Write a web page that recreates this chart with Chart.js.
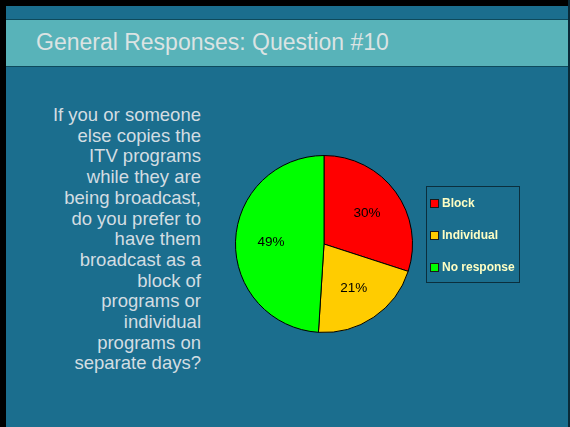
<!DOCTYPE html>
<html>
<head>
<meta charset="utf-8">
<script src="https://cdn.jsdelivr.net/npm/chart.js@4/dist/chart.umd.min.js"></script>
<style>
    html, body { margin: 0; padding: 0; }
    body {
        width: 570px; height: 427px; position: relative; overflow: hidden;
        background: #1b6e8e;
        font-family: Arial, "Liberation Sans", sans-serif;
    }
    .frame-top { position: absolute; left: 0; top: 0; width: 570px; height: 6px; background: #000; }
    .frame-left { position: absolute; left: 0; top: 0; width: 6px; height: 427px; background: #000; }
    .frame-right { position: absolute; right: 0; top: 0; width: 2px; height: 427px; background: #0a2a38; }
    .header {
        position: absolute; left: 6px; top: 19px; width: 562px; height: 46px;
        background: #58b3b9;
        border-top: 1px solid #0e4a5c; border-bottom: 1px solid #0e4a5c;
    }
    .header h1 {
        margin: 0; position: absolute; left: 30px; top: 9px;
        font-size: 23px; font-weight: normal; color: #dbe3e3; white-space: nowrap;
    }
    .question {
        position: absolute; left: 10px; top: 105px; width: 191px;
        text-align: right; font-size: 18.5px; line-height: 20.7px; color: #d3dde2;
    }
    #chart { position: absolute; left: 0; top: 0; }
</style>
</head>
<body>
<div class="frame-top"></div>
<div class="frame-left"></div>
<div class="frame-right"></div>
<div class="header"><h1>General Responses: Question #10</h1></div>
<div class="question">
    If you or someone<br>else copies the<br>ITV programs<br>while they are<br>being broadcast,<br>do you prefer to<br>have them<br>broadcast as a<br>block of<br>programs or<br>individual<br>programs on<br>separate days?
</div>
<canvas id="chart" width="570" height="427"></canvas>

<script>
const categories = ['Block', 'Individual', 'No response'];
const percents = [30, 21, 49];
const sliceColors = ['#ff0000', '#ffcc00', '#00ff00'];

// percent labels inside each slice
const sliceLabels = {
    id: 'sliceLabels',
    afterDatasetsDraw(chart) {
        const ctx = chart.ctx;
        const meta = chart.getDatasetMeta(0);
        ctx.save();
        ctx.font = '13.5px Arial, "Liberation Sans", sans-serif';
        ctx.fillStyle = '#000';
        ctx.textAlign = 'center';
        ctx.textBaseline = 'middle';
        meta.data.forEach((arc, i) => {
            const p = arc.getProps(['x', 'y', 'startAngle', 'endAngle', 'outerRadius'], true);
            const mid = (p.startAngle + p.endAngle) / 2;
            const r = p.outerRadius * 0.6;
            ctx.fillText(chart.data.datasets[0].data[i] + '%', p.x + Math.cos(mid) * r, p.y + Math.sin(mid) * r);
        });
        ctx.restore();
    }
};

// boxed legend to the right of the pie
const boxLegend = {
    id: 'boxLegend',
    afterDraw(chart) {
        const ctx = chart.ctx;
        const ds = chart.data.datasets[0];
        const left = 426, top = 186, w = 93, h = 96;
        ctx.save();
        ctx.strokeStyle = '#0b2f3d';
        ctx.lineWidth = 1;
        ctx.strokeRect(left + 0.5, top + 0.5, w, h);
        ctx.font = 'bold 12px Arial, "Liberation Sans", sans-serif';
        ctx.textBaseline = 'middle';
        chart.data.labels.forEach((lab, i) => {
            const cy = top + 17.5 + i * 32;
            ctx.fillStyle = ds.backgroundColor[i];
            ctx.fillRect(431, cy - 3.5, 7, 7);
            ctx.strokeStyle = '#1a1a1a';
            ctx.strokeRect(430.5, cy - 4, 8, 8);
            ctx.fillStyle = '#ffffc4';
            ctx.fillText(lab, 442, cy + 0.5);
        });
        ctx.restore();
    }
};

new Chart(document.getElementById('chart'), {
    type: 'pie',
    data: {
        labels: categories,
        datasets: [{
            data: percents,
            backgroundColor: sliceColors,
            borderColor: '#000',
            borderWidth: 1
        }]
    },
    options: {
        responsive: false,
        animation: false,
        layout: { padding: { left: 235, top: 155, right: 157, bottom: 94 } },
        plugins: {
            legend: { display: false },
            tooltip: { enabled: false }
        }
    },
    plugins: [sliceLabels, boxLegend]
});
</script>
</body>
</html>
